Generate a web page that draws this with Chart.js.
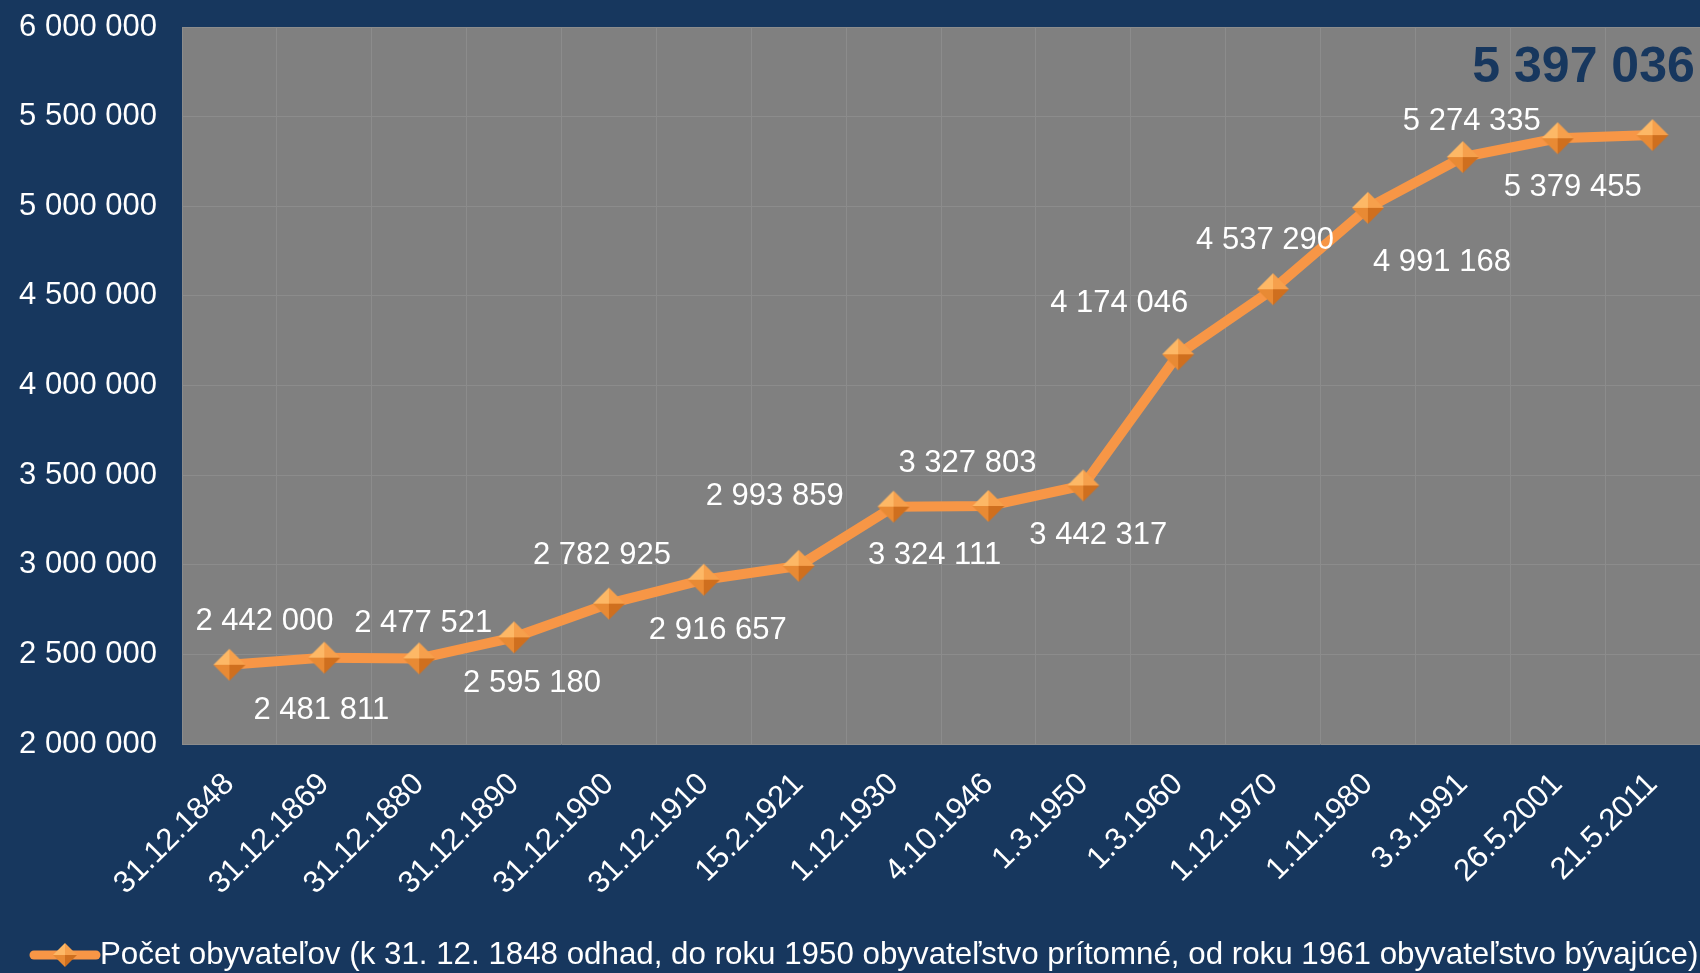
<!DOCTYPE html>
<html>
<head>
<meta charset="utf-8">
<title>Počet obyvateľov</title>
<script src="https://cdn.jsdelivr.net/npm/chart.js@4.4.1/dist/chart.umd.min.js"></script>
<style>
  html, body { margin: 0; padding: 0; background: #17375E; }
  #chart { display: block; }
</style>
</head>
<body>
<canvas id="chart" width="1700" height="973"></canvas>
<script>
// Census dates
const categories = [
    '31.12.1848', '31.12.1869', '31.12.1880', '31.12.1890', '31.12.1900', '31.12.1910',
    '15.2.1921', '1.12.1930', '4.10.1946', '1.3.1950', '1.3.1960', '1.12.1970',
    '1.11.1980', '3.3.1991', '26.5.2001', '21.5.2011'
];

// Population values
const population = [
    2442000, 2481811, 2477521, 2595180, 2782925, 2916657,
    2993859, 3324111, 3327803, 3442317, 4174046, 4537290,
    4991168, 5274335, 5379455, 5397036
];

// Y axis tick values
const yTickValues = [2000000, 2500000, 3000000, 3500000, 4000000, 4500000, 5000000, 5500000, 6000000];

const seriesName = 'Počet obyvateľov (k 31. 12. 1848 odhad, do roku 1950 obyvateľstvo prítomné, od roku 1961 obyvateľstvo bývajúce)';

// Data label offsets from each point (px)
const labelOffsets = [
    [35, -43], [-3, 53], [4, -35], [18, 46], [-7, -48], [14, 51],
    [-24, -69], [41, 49], [-21, -43], [15, 50], [-59, -51], [-8, -49],
    [74, 55], [9, -36], [15, 49], [-69, -67]
];

const FONT = "'Liberation Sans', Arial, sans-serif";
const NAVY = '#17375E';
const ORANGE = '#F79646';

const fmt = n => String(n).replace(/\B(?=(\d{3})+(?!\d))/g, ' ');

// Diamond marker with a bit of 3D shading
function makeDiamond(r) {
    const c = document.createElement('canvas');
    c.width = c.height = r * 2 + 4;
    const g = c.getContext('2d');
    const cx = r + 2, cy = r + 2;
    const facets = [
        ['#fdb866', [cx, cy - r], [cx - r, cy]],   // top-left
        ['#f6a04c', [cx, cy - r], [cx + r, cy]],   // top-right
        ['#e88a34', [cx - r, cy], [cx, cy + r]],   // bottom-left
        ['#cf6f1e', [cx + r, cy], [cx, cy + r]]    // bottom-right
    ];
    facets.forEach(([col, a, b]) => {
        g.beginPath();
        g.moveTo(cx, cy);
        g.lineTo(a[0], a[1]);
        g.lineTo(b[0], b[1]);
        g.closePath();
        g.fillStyle = col;
        g.fill();
    });
    return c;
}
const diamond = makeDiamond(16);
const legendDiamond = makeDiamond(12);

// Gray plot background
const plotBackground = {
    id: 'plotBackground',
    beforeDraw(chart) {
        const { ctx, chartArea: a } = chart;
        ctx.save();
        ctx.fillStyle = '#808080';
        ctx.fillRect(a.left, a.top, a.right - a.left, a.bottom - a.top);
        ctx.restore();
    }
};

// Value labels next to points
const valueLabels = {
    id: 'valueLabels',
    afterDatasetsDraw(chart) {
        const { ctx } = chart;
        const meta = chart.getDatasetMeta(0);
        ctx.save();
        ctx.textAlign = 'center';
        ctx.textBaseline = 'middle';
        meta.data.forEach((pt, i) => {
            const [dx, dy] = labelOffsets[i];
            if (i === population.length - 1) {
                ctx.font = 'bold 50px ' + FONT;
                ctx.fillStyle = NAVY;
            } else {
                ctx.font = '31px ' + FONT;
                ctx.fillStyle = '#ffffff';
            }
            ctx.fillText(fmt(population[i]), pt.x + dx, pt.y + dy);
        });
        ctx.restore();
    }
};

// Legend at the bottom
const bottomLegend = {
    id: 'bottomLegend',
    afterDraw(chart) {
        const { ctx } = chart;
        const y = 955;
        ctx.save();
        ctx.strokeStyle = ORANGE;
        ctx.lineWidth = 9;
        ctx.lineCap = 'round';
        ctx.beginPath();
        ctx.moveTo(34, y);
        ctx.lineTo(96, y);
        ctx.stroke();
        ctx.drawImage(legendDiamond, 65 - legendDiamond.width / 2, y - legendDiamond.height / 2);
        ctx.font = '31.3px ' + FONT;
        ctx.fillStyle = '#ffffff';
        ctx.textAlign = 'left';
        ctx.textBaseline = 'middle';
        ctx.fillText(seriesName, 100, y);
        ctx.restore();
    }
};

new Chart(document.getElementById('chart'), {
    type: 'line',
    data: {
        labels: categories,
        datasets: [{
            label: seriesName,
            data: population,
            borderColor: ORANGE,
            borderWidth: 10,
            tension: 0,
            pointStyle: diamond,
            pointRadius: 16,
            pointHoverRadius: 16,
            fill: false
        }]
    },
    options: {
        responsive: false,
        animation: false,
        devicePixelRatio: 1,
        layout: { autoPadding: false, padding: { top: 27, right: 0, bottom: 0, left: 0 } },
        plugins: {
            legend: { display: false },
            tooltip: { enabled: false }
        },
        scales: {
            x: {
                offset: true,
                grid: { offset: true, color: '#8c8c8c', lineWidth: 1, drawTicks: false },
                border: { display: false },
                ticks: {
                    color: '#ffffff',
                    font: { family: FONT, size: 31 },
                    minRotation: 45,
                    maxRotation: 45,
                    autoSkip: false,
                    padding: 22
                },
                afterFit(scale) {
                    scale.height = 229;
                    scale.paddingLeft = 0;
                    scale.paddingRight = 0;
                }
            },
            y: {
                min: 2000000,
                max: 6000000,
                afterBuildTicks(scale) {
                    scale.ticks = yTickValues.map(v => ({ value: v }));
                },
                grid: { color: '#8c8c8c', lineWidth: 1, drawTicks: false },
                border: { display: false },
                ticks: {
                    color: '#ffffff',
                    font: { family: FONT, size: 31 },
                    padding: 25,
                    callback: v => fmt(v)
                },
                afterFit(scale) {
                    scale.width = 182;
                    scale.paddingTop = 0;
                    scale.paddingBottom = 0;
                }
            }
        }
    },
    plugins: [plotBackground, valueLabels, bottomLegend]
});
</script>
</body>
</html>
